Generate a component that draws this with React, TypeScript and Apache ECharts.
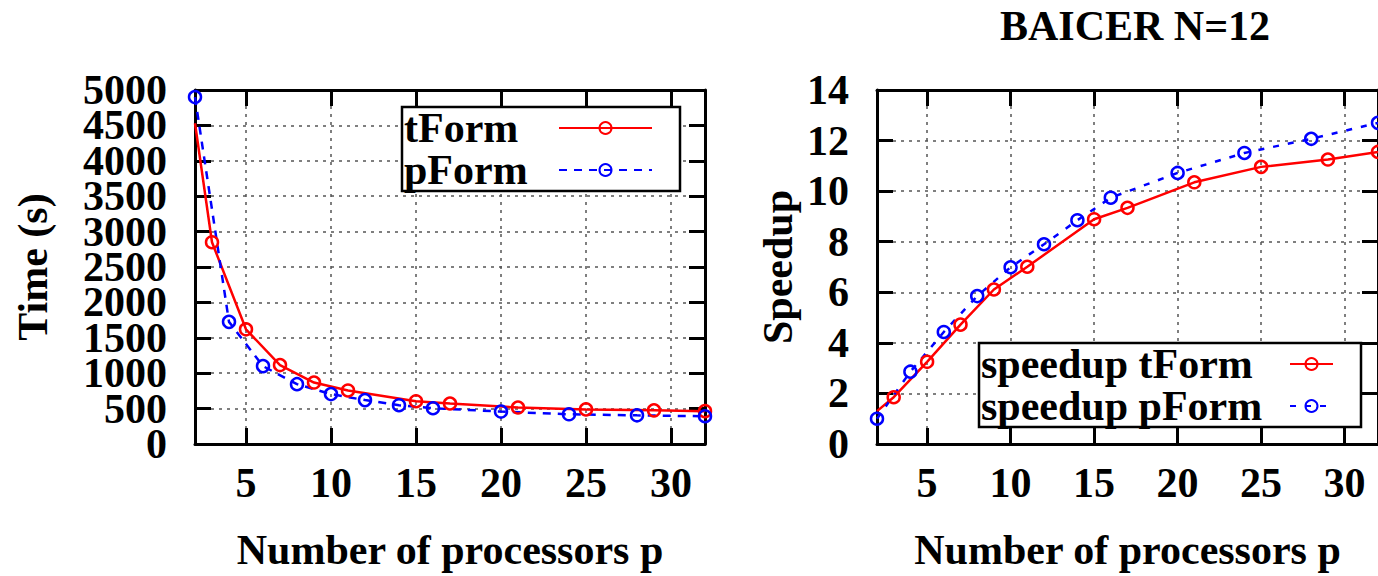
import React, { useEffect, useRef } from "react";
import * as echarts from "echarts";

// ---- data ----
const P_TFORM = [2, 3, 5, 7, 9, 11, 15, 17, 21, 25, 29, 32];
const TIME_TFORM = [4530, 2850, 1620, 1115, 868, 756, 604, 572, 515, 489, 475, 464];
const P_PFORM = [2, 4, 6, 8, 10, 12, 14, 16, 20, 24, 28, 32];
const TIME_PFORM = [4900, 1725, 1100, 845, 705, 620, 548, 505, 458, 420, 405, 392];
const SPEEDUP_TFORM = [1.3, 1.85, 3.25, 4.72, 6.11, 7.01, 8.89, 9.34, 10.35, 10.96, 11.25, 11.55];
const SPEEDUP_PFORM = [1.0, 2.86, 4.43, 5.85, 6.99, 7.9, 8.85, 9.74, 10.72, 11.51, 12.07, 12.7];
const X_TICKS = [5, 10, 15, 20, 25, 30];
const TIME_TICKS = [0, 500, 1000, 1500, 2000, 2500, 3000, 3500, 4000, 4500, 5000];
const TIME_LABELS_A = [0, 1000, 2000, 3000, 4000, 5000];
const TIME_LABELS_B = [500, 1500, 2500, 3500, 4500];
const SPEEDUP_TICKS = [0, 2, 4, 6, 8, 10, 12, 14];
const TITLE = "BAICER N=12";
const X_NAME = "Number of processors p";

const FONT = "'Liberation Serif', 'Times New Roman', serif";
const RED = "#ff0000";
const BLUE = "#0000ff";

const txt = (size: number) => ({ fontSize: size, fontWeight: "bold" as const, fontFamily: FONT, color: "#000" });
const tick = { show: true, inside: true, length: 16, lineStyle: { color: "#000", width: 3 } };
const frameLine = { show: true, onZero: false, lineStyle: { color: "#000", width: 3 } };
const grid = { show: true, lineStyle: { color: "#555", width: 1.5, type: [3, 5] } };
const plain = (v: number) => String(v);
const labelBase = { ...txt(42), formatter: plain, showMinLabel: true, showMaxLabel: true, hideOverlap: false };

function xAxes(gridIndex: number) {
  return [
    {
      type: "value", gridIndex, min: 2, max: 32, position: "bottom",
      axisLine: frameLine,
      axisTick: { ...tick, customValues: X_TICKS },
      axisLabel: { ...labelBase, margin: 18, customValues: X_TICKS },
      splitLine: grid,
      name: X_NAME, nameLocation: "middle", nameGap: 85, nameTextStyle: txt(42),
    },
    {
      type: "value", gridIndex, min: 2, max: 32, position: "top",
      axisLine: frameLine,
      axisTick: { ...tick, customValues: X_TICKS },
      axisLabel: { show: false },
      splitLine: { show: false },
    },
  ];
}

function yAxes(gridIndex: number, max: number, ticks: number[], labels: number[], name: string, nameGap: number) {
  return [
    {
      type: "value", gridIndex, min: 0, max, position: "left",
      axisLine: frameLine,
      axisTick: { ...tick, customValues: ticks },
      axisLabel: { ...labelBase, margin: 28, customValues: labels },
      splitLine: grid,
      name, nameLocation: "middle", nameGap, nameTextStyle: txt(42),
    },
    {
      type: "value", gridIndex, min: 0, max, position: "right",
      axisLine: frameLine,
      axisTick: { ...tick, customValues: ticks },
      axisLabel: { show: false },
      splitLine: { show: false },
    },
  ];
}

// extra label-only axis sharing the left edge (keeps neighbouring labels from hiding each other)
function yLabelAxis(gridIndex: number, max: number, labels: number[]) {
  return {
    type: "value", gridIndex, min: 0, max, position: "left", offset: 0,
    axisLine: { show: false },
    axisTick: { show: false, customValues: labels },
    axisLabel: { ...labelBase, margin: 28, customValues: labels },
    splitLine: { show: false },
  };
}

function pts(xs: number[], ys: number[], hideFirst: boolean) {
  return xs.map((x, i) => (hideFirst && i === 0 ? { value: [x, ys[i]], symbol: "none" } : [x, ys[i]]));
}

function lineSeries(name: string, xs: number[], ys: number[], color: string, dash: any, xi: number, yi: number, hideFirst: boolean) {
  return {
    type: "line", name, xAxisIndex: xi, yAxisIndex: yi,
    data: pts(xs, ys, hideFirst),
    symbol: "circle", symbolSize: 12,
    lineStyle: { color, width: 2.5, type: dash },
    itemStyle: { color: "rgba(0,0,0,0)", borderColor: color, borderWidth: 2.5 },
    emphasis: { disabled: true },
    clip: true,
    z: 3,
  };
}

function legend(names: string[], left: number, top: number, textWidth: number, iconWidth: number) {
  return {
    data: names, orient: "vertical", left, top, align: "right",
    itemWidth: iconWidth, itemHeight: 15, itemGap: 0,
    padding: [0, 27, 0, 2],
    borderColor: "#000", borderWidth: 2.5, backgroundColor: "#fff",
    formatter: "{a|{name}}",
    textStyle: { ...txt(42), rich: { a: { ...txt(42), width: textWidth, align: "left", lineHeight: 43 } } },
    selectedMode: false,
    z: 5,
  };
}

export default function App() {
  const ref = useRef<HTMLDivElement>(null);
  useEffect(() => {
    document.body.style.margin = "0";
    const chart = echarts.init(ref.current!, null, { renderer: "svg" });
    chart.setOption({
      animation: false,
      backgroundColor: "#fff",
      title: { text: TITLE, left: 1130, top: 0, textAlign: "center", textStyle: txt(42) },
      grid: [
        { left: 195, top: 90, width: 510, height: 357 },
        { left: 877, top: 90, width: 508, height: 356 },
      ],
      xAxis: [...xAxes(0), ...xAxes(1)],
      yAxis: [
        ...yAxes(0, 5000, TIME_TICKS, TIME_LABELS_A, "Time (s)", 141),
        yLabelAxis(0, 5000, TIME_LABELS_B),
        ...yAxes(1, 14, SPEEDUP_TICKS, SPEEDUP_TICKS, "Speedup", 78),
      ],
      legend: [
        legend(["tForm", "pForm"], 402, 107, 150, 93),
        legend(["speedup tForm", "speedup pForm"], 979, 343, 304, 43),
      ],
      series: [
        lineSeries("tForm", P_TFORM, TIME_TFORM, RED, "solid", 0, 0, true),
        lineSeries("pForm", P_PFORM, TIME_PFORM, BLUE, [8, 7], 0, 0, false),
        lineSeries("speedup tForm", P_TFORM, SPEEDUP_TFORM, RED, "solid", 2, 3, true),
        lineSeries("speedup pForm", P_PFORM, SPEEDUP_PFORM, BLUE, [6, 9], 2, 3, false),
      ],
    });
    return () => chart.dispose();
  }, []);
  return <div ref={ref} style={{ width: 1378, height: 576 }} />;
}
